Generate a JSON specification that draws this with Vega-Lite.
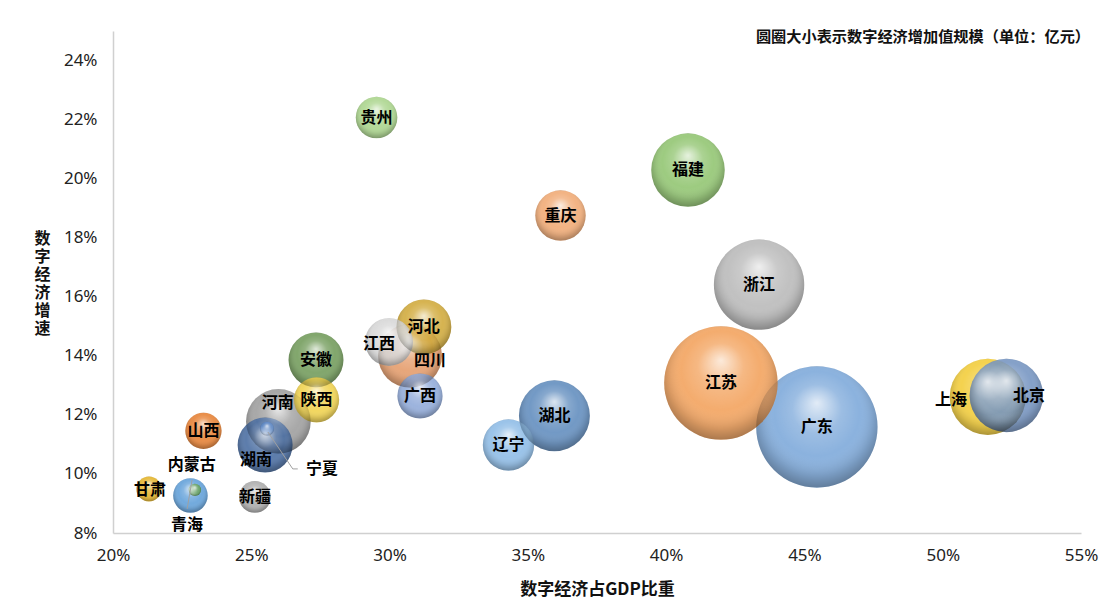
{
  "$schema": "https://vega.github.io/schema/vega-lite/v6.json",
  "width": 968,
  "height": 502,
  "autosize": "none",
  "padding": {"left": 113, "top": 31, "right": 24, "bottom": 79},
  "background": "white",
  "config": {"view": {"stroke": null}, "font": "Noto Sans CJK SC"},
  "title": {
    "text": "圆圈大小表示数字经济增加值规模（单位：亿元）",
    "anchor": "end",
    "frame": "group",
    "orient": "top",
    "baseline": "middle",
    "offset": -21,
    "dx": 9,
    "font": "Noto Sans CJK SC",
    "fontSize": 15.2,
    "fontWeight": "bold",
    "color": "#111111"
  },
  "datasets": {
    "provinces": [
      {"省份": "广东", "数字经济占GDP比重": 0.4545, "数字经济增速": 0.1159, "规模": 46900, "标签x": 0.4545, "标签y": 0.1159},
      {"省份": "江苏", "数字经济占GDP比重": 0.4198, "数字经济增速": 0.1308, "规模": 41000, "标签x": 0.4198, "标签y": 0.1308},
      {"省份": "浙江", "数字经济占GDP比重": 0.4336, "数字经济增速": 0.1641, "规模": 26000, "标签x": 0.4336, "标签y": 0.1641},
      {"省份": "上海", "数字经济占GDP比重": 0.5163, "数字经济增速": 0.1261, "规模": 18500, "标签x": 0.5030, "标签y": 0.1251},
      {"省份": "北京", "数字经济占GDP比重": 0.5230, "数字经济增速": 0.1266, "规模": 17200, "标签x": 0.5312, "标签y": 0.1264},
      {"省份": "福建", "数字经济占GDP比重": 0.4079, "数字经济增速": 0.2029, "规模": 17200, "标签x": 0.4079, "标签y": 0.2029},
      {"省份": "湖北", "数字经济占GDP比重": 0.3596, "数字经济增速": 0.1197, "规模": 16000, "标签x": 0.3596, "标签y": 0.1197},
      {"省份": "四川", "数字经济占GDP比重": 0.3074, "数字经济增速": 0.1400, "规模": 13000, "标签x": 0.3146, "标签y": 0.1383},
      {"省份": "河南", "数字经济占GDP比重": 0.2598, "数字经济增速": 0.1178, "规模": 13300, "标签x": 0.2596, "标签y": 0.1240},
      {"省份": "河北", "数字经济占GDP比重": 0.3124, "数字经济增速": 0.1498, "规模": 9600, "标签x": 0.3124, "标签y": 0.1498},
      {"省份": "湖南", "数字经济占GDP比重": 0.2550, "数字经济增速": 0.1098, "规模": 9600, "标签x": 0.2517, "标签y": 0.1047},
      {"省份": "安徽", "数字经济占GDP比重": 0.2734, "数字经济增速": 0.1386, "规模": 9600, "标签x": 0.2734, "标签y": 0.1386},
      {"省份": "重庆", "数字经济占GDP比重": 0.3618, "数字经济增速": 0.1875, "规模": 8100, "标签x": 0.3618, "标签y": 0.1875},
      {"省份": "辽宁", "数字经济占GDP比重": 0.3430, "数字经济增速": 0.1098, "规模": 8400, "标签x": 0.3430, "标签y": 0.1098},
      {"省份": "江西", "数字经济占GDP比重": 0.2998, "数字经济增速": 0.1447, "规模": 7300, "标签x": 0.2962, "标签y": 0.1441},
      {"省份": "广西", "数字经济占GDP比重": 0.3110, "数字经济增速": 0.1264, "规模": 6500, "标签x": 0.3110, "标签y": 0.1264},
      {"省份": "陕西", "数字经济占GDP比重": 0.2736, "数字经济增速": 0.1251, "规模": 6500, "标签x": 0.2736, "标签y": 0.1251},
      {"省份": "贵州", "数字经济占GDP比重": 0.2953, "数字经济增速": 0.2207, "规模": 5500, "标签x": 0.2953, "标签y": 0.2207},
      {"省份": "山西", "数字经济占GDP比重": 0.2327, "数字经济增速": 0.1146, "规模": 4200, "标签x": 0.2327, "标签y": 0.1146},
      {"省份": "内蒙古", "数字经济占GDP比重": 0.2280, "数字经济增速": 0.0927, "规模": 3800, "标签x": 0.2285, "标签y": 0.1031},
      {"省份": "新疆", "数字经济占GDP比重": 0.2513, "数字经济增速": 0.0922, "规模": 3200, "标签x": 0.2513, "标签y": 0.0922},
      {"省份": "甘肃", "数字经济占GDP比重": 0.2130, "数字经济增速": 0.0949, "规模": 2000, "标签x": 0.2134, "标签y": 0.0946},
      {"省份": "宁夏", "数字经济占GDP比重": 0.2557, "数字经济增速": 0.1153, "规模": 640, "标签x": 0.2756, "标签y": 0.1017},
      {"省份": "青海", "数字经济占GDP比重": 0.2296, "数字经济增速": 0.0946, "规模": 490, "标签x": 0.2268, "标签y": 0.0827}
    ],
    "leaders": [
      {"省份": "宁夏", "序号": 1, "x": 0.2560, "y": 0.1142},
      {"省份": "宁夏", "序号": 2, "x": 0.2650, "y": 0.1017},
      {"省份": "宁夏", "序号": 3, "x": 0.2668, "y": 0.1017},
      {"省份": "青海", "序号": 1, "x": 0.2286, "y": 0.0980},
      {"省份": "青海", "序号": 2, "x": 0.2268, "y": 0.0881}
    ]
  },
  "layer": [
    {
      "data": {"name": "provinces"},
      "mark": {"type": "circle", "opacity": 0.88},
      "encoding": {
        "x": {
          "field": "数字经济占GDP比重", "type": "quantitative",
          "scale": {"domain": [0.2, 0.55], "nice": false, "zero": false},
          "axis": {
            "title": "数字经济占GDP比重",
            "values": [0.2, 0.25, 0.3, 0.35, 0.4, 0.45, 0.5, 0.55],
            "format": ".0%", "grid": false, "ticks": false, "tickSize": 0,
            "domainColor": "#d0d0d0", "domainWidth": 1.5,
            "labelFont": "Noto Sans", "labelFontSize": 17, "labelColor": "#222222",
            "labelPadding": 14, "labelFlush": false,
            "titleFont": "Noto Sans CJK SC", "titleFontSize": 17, "titleFontWeight": "bold",
            "titleColor": "#111111", "titlePadding": 18
          }
        },
        "y": {
          "field": "数字经济增速", "type": "quantitative",
          "scale": {"domain": [0.08, 0.25], "nice": false, "zero": false},
          "axis": {
            "title": ["数", "字", "经", "济", "增", "速"],
            "values": [0.08, 0.1, 0.12, 0.14, 0.16, 0.18, 0.2, 0.22, 0.24],
            "format": ".0%", "grid": false, "ticks": false, "tickSize": 0,
            "domainColor": "#d0d0d0", "domainWidth": 1.5,
            "labelFont": "Noto Sans", "labelFontSize": 17, "labelColor": "#222222",
            "labelPadding": 16,
            "titleFont": "Noto Sans CJK SC", "titleFontSize": 16, "titleFontWeight": "bold",
            "titleColor": "#111111", "titleAngle": 0, "titleAlign": "center", "titleBaseline": "middle",
            "titleLineHeight": 18, "titleX": -71, "titleY": 207
          }
        },
        "size": {
          "field": "规模", "type": "quantitative",
          "scale": {"type": "linear", "domain": [0, 10000], "range": [0, 3141.6]},
          "legend": null
        },
        "color": {
          "field": "省份", "type": "nominal", "legend": null,
          "scale": {
            "domain": ["广东", "江苏", "浙江", "上海", "北京", "福建", "湖北", "四川", "河南", "河北", "湖南", "安徽", "重庆", "辽宁", "江西", "广西", "陕西", "贵州", "山西", "内蒙古", "新疆", "甘肃", "宁夏", "青海"],
            "range": ["#7ba7d9", "#f2a05a", "#b8b8b8", "#f2cc35", "#7393c0", "#8fc46e", "#5f8bbd", "#e49a68", "#9c9c9c", "#d0a838", "#456a9f", "#6f9a58", "#f0a872", "#8cbbe6", "#d6d6d6", "#8ea8d8", "#f0d24a", "#a8d48a", "#e67e30", "#5f9ed8", "#aaaaaa", "#e2b224", "#3f72bc", "#5a9a4c"]
          }
        }
      }
    },
    {
      "data": {"name": "provinces"},
      "mark": {
        "type": "circle", "opacity": 1,
        "color": {"gradient": "radial", "x1": 0.5, "y1": 0.3, "r1": 0, "x2": 0.5, "y2": 0.45, "r2": 0.58,
          "stops": [
            {"offset": 0, "color": "rgba(255,255,255,0.75)"},
            {"offset": 0.35, "color": "rgba(255,255,255,0.15)"},
            {"offset": 0.6, "color": "rgba(255,255,255,0)"},
            {"offset": 0.82, "color": "rgba(0,0,0,0.12)"},
            {"offset": 1, "color": "rgba(0,0,0,0.35)"}
          ]}
      },
      "encoding": {
        "x": {"field": "数字经济占GDP比重", "type": "quantitative", "title": "数字经济占GDP比重"},
        "y": {"field": "数字经济增速", "type": "quantitative", "title": ["数", "字", "经", "济", "增", "速"]},
        "size": {"field": "规模", "type": "quantitative", "legend": null}
      }
    },
    {
      "data": {"name": "leaders"},
      "mark": {"type": "line", "color": "#a0a0a0", "strokeWidth": 1},
      "encoding": {
        "x": {"field": "x", "type": "quantitative", "title": "数字经济占GDP比重"},
        "y": {"field": "y", "type": "quantitative", "title": ["数", "字", "经", "济", "增", "速"]},
        "detail": {"field": "省份"},
        "order": {"field": "序号"}
      }
    },
    {
      "data": {"name": "provinces"},
      "mark": {"type": "text", "font": "Noto Sans CJK SC", "fontWeight": "bold", "fontSize": 16, "color": "#000000", "baseline": "middle", "align": "center"},
      "encoding": {
        "x": {"field": "标签x", "type": "quantitative", "title": "数字经济占GDP比重"},
        "y": {"field": "标签y", "type": "quantitative", "title": ["数", "字", "经", "济", "增", "速"]},
        "text": {"field": "省份"}
      }
    }
  ]
}
